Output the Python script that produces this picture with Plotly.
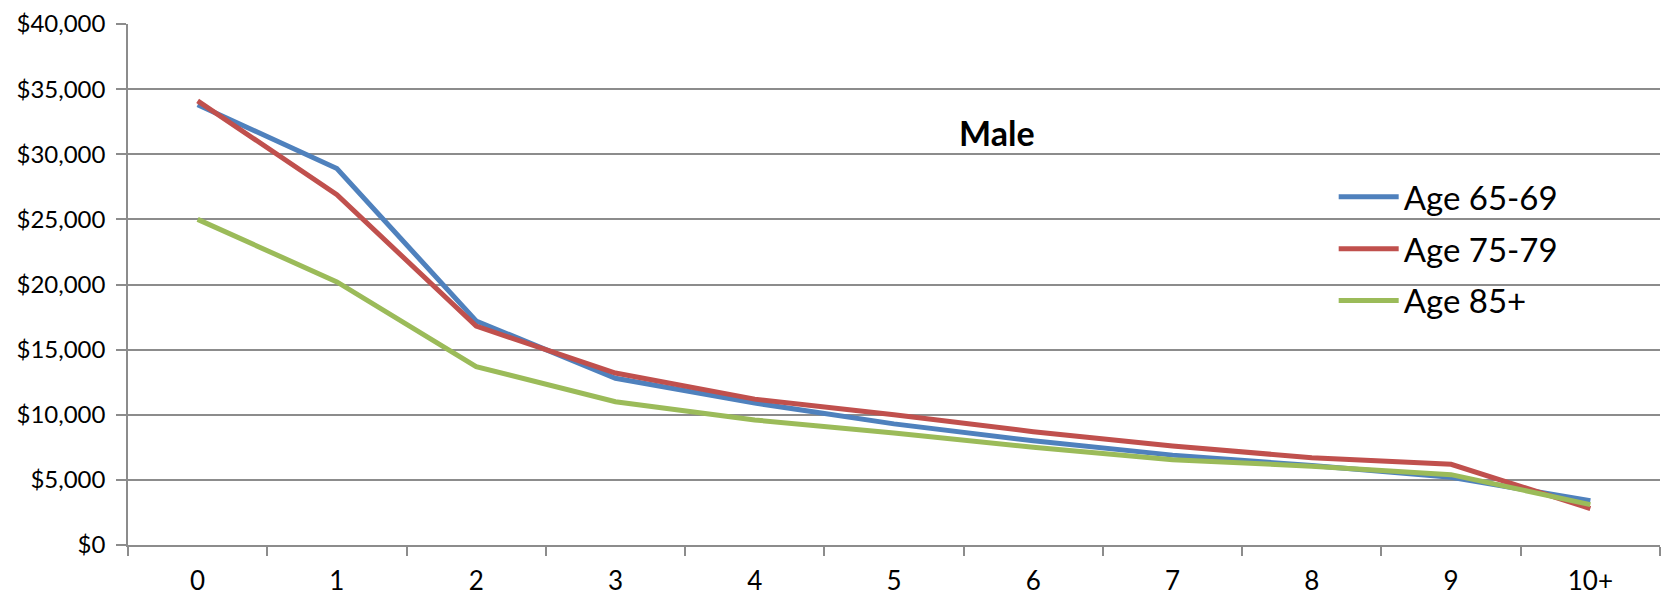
import plotly.graph_objects as go

categories = ["0", "1", "2", "3", "4", "5", "6", "7", "8", "9", "10+"]
age_65_69 = [33800, 28900, 17200, 12800, 10900, 9300, 8000, 6900, 6100, 5200, 3400]
age_75_79 = [34100, 26900, 16800, 13200, 11200, 10000, 8700, 7600, 6700, 6200, 2800]
age_85_plus = [25000, 20200, 13700, 11000, 9600, 8600, 7500, 6550, 6050, 5400, 3100]
series_names = ["Age 65-69", "Age 75-79", "Age 85+"]
colors = ["#4F81BD", "#C0504D", "#9BBB59"]
y_ticks = [0, 5000, 10000, 15000, 20000, 25000, 30000, 35000, 40000]
y_tick_labels = ["$0", "$5,000", "$10,000", "$15,000", "$20,000", "$25,000", "$30,000", "$35,000", "$40,000"]

FONT = "Gill Sans MT, Gill Sans, Lato, sans-serif"

fig = go.Figure()
for name, vals, col in zip(series_names, [age_65_69, age_75_79, age_85_plus], colors):
    fig.add_trace(go.Scatter(
        x=categories, y=vals, mode="lines", name=name, legendgroup=name,
        line=dict(color=col, width=5),
    ))

fig.update_layout(
    width=1674, height=597,
    margin=dict(l=128, r=14, t=24, b=52, autoexpand=False),
    paper_bgcolor="white", plot_bgcolor="white",
    font=dict(family=FONT, color="black"),
    showlegend=True,
    legend=dict(
        x=0.787, y=0.722, xanchor="left", yanchor="top",
        font=dict(size=33, family=FONT, color="black"),
        traceorder="grouped", tracegroupgap=6,
        itemwidth=60, bgcolor="rgba(0,0,0,0)",
    ),
    xaxis=dict(
        type="category", tickson="boundaries", ticks="outside", ticklen=9,
        tickcolor="#8c8c8c", tickwidth=1.5,
        showline=True, linecolor="#8c8c8c", linewidth=1.5,
        showgrid=False, tickfont=dict(size=26, family=FONT),
        ticklabelstandoff=12, automargin=False,
        range=[-0.5, 10.5], zeroline=False,
    ),
    yaxis=dict(
        range=[0, 40000], tickvals=y_ticks, ticktext=y_tick_labels,
        ticks="outside", ticklen=10, tickcolor="#8c8c8c", tickwidth=1.5,
        showline=True, linecolor="#8c8c8c", linewidth=1.5,
        showgrid=True, gridcolor="#8c8c8c", gridwidth=1.5,
        zeroline=False, tickfont=dict(size=24, family=FONT),
        ticklabelstandoff=6, automargin=False,
    ),
    annotations=[dict(
        text="<b>Male</b>", x=0.567, y=0.791, xref="paper", yref="paper",
        xanchor="center", yanchor="middle",
        showarrow=False, font=dict(size=34, family=FONT, color="black"),
    )],
)

fig.write_html("out.html")
